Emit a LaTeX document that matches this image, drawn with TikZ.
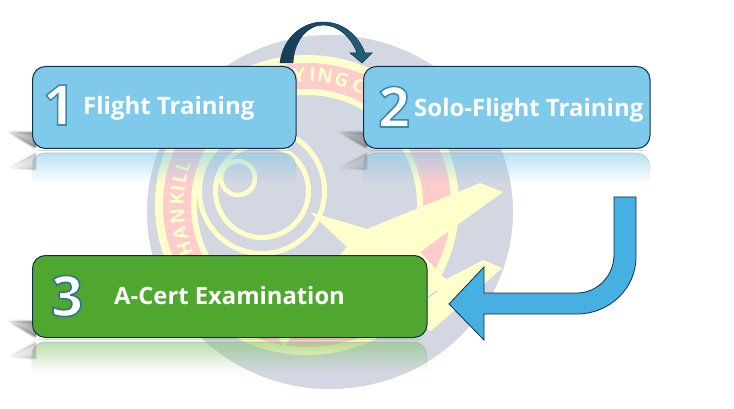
\documentclass[tikz,border=0pt]{standalone}
\usepackage{fontspec}
\setmainfont{Open Sans}
\usetikzlibrary{fadings,shadings}
\definecolor{logobg}{HTML}{D2D7E1}
\definecolor{logoyel}{HTML}{FFFFCC}
\definecolor{logopink}{HTML}{FFCCCC}
\definecolor{boxblue}{HTML}{7FC9EA}
\definecolor{boxgreen}{HTML}{4FA72F}
\definecolor{edgedark}{HTML}{0F3048}
\definecolor{arrowblue}{HTML}{45B0E1}
\tikzfading[name=reflfade,top color=transparent!45,bottom color=transparent!100]
\tikzfading[name=shadowfade,left color=transparent!100,right color=transparent!65]
\tikzfading[name=shadowfadeb,left color=transparent!100,right color=transparent!88]
\tikzset{
  x=1pt,y=-1pt,
  stepbox/.style={draw=edgedark,line width=1pt,rounded corners=13pt,inner sep=0pt,anchor=north west},
  label/.style={font=\bfseries\fontsize{24}{26}\selectfont,text=white,inner sep=0pt,anchor=base west},
  digit/.style={font=\bfseries\fontsize{56}{60}\selectfont,text=white,inner sep=0pt,anchor=base},
  letter/.style={font=\bfseries\fontsize{19}{21}\selectfont,text=logoyel,inner sep=0pt},
}
\newcommand{\outl}[2]{\special{pdf:code q 2 Tr 1.5 w #1 RG}#2\special{pdf:code Q}}
\newcommand{\reflection}[5]{% x1 x2 ytop ybottom colour
  \fill[#5,path fading=reflfade] (#1,#4) -- (#1,#3+13) arc[start angle=180,end angle=270,radius=13] -- (#2-13,#3) arc[start angle=270,end angle=360,radius=13] -- (#2,#4) -- cycle;
  \draw[gray!70,line width=.8pt,path fading=reflfade] (#1,#4-6) -- (#1,#3+13) arc[start angle=180,end angle=270,radius=13] -- (#2-13,#3) arc[start angle=270,end angle=360,radius=13] -- (#2,#4-6);
  \fill[gray,opacity=.3] (#1+6,#3-3.2) rectangle (#2-6,#3-1.6);
  \foreach \w in {0,2,4}{
    \path[fill=black!50,draw=black!50,line width=\w pt,line join=round,path fading=shadowfade] (#1-24,#3-21) -- (#1+3,#3-20) -- (#1+3,#3-6) -- cycle;
    \path[fill=black!50,draw=black!50,line width=\w pt,line join=round,path fading=shadowfadeb] (#1-24,#3+15) -- (#1+3,#3+1) -- (#1+3,#3+16) -- cycle;
  }
}
\begin{document}
\begin{tikzpicture}
\useasboundingbox (0,0) rectangle (734,409);
% emblem
\coordinate (ec) at (307,205);
\fill[logobg] (330,212) ellipse[x radius=183,y radius=177];
\fill[logoyel] (ec) ellipse[x radius=152,y radius=150];
\fill[logopink] (ec) ellipse[x radius=144,y radius=142];
\fill[logoyel] (ec) circle[radius=116];
\fill[logobg] (ec) circle[radius=110];
\foreach \r/\cx/\cy in {65/262/191,49/262/191}
  \draw[logoyel,line width=5pt] (\cx,\cy) circle[radius=\r-2.5];
\draw[logoyel,line width=4.5pt] (238,178) circle[radius=17];
\foreach \l/\a in {H/160,A/167.5,N/175,K/182.5,I/187.5,L/192,L/197.5,Y/266.5,I/272.5,N/278,G/285.5,C/293.5}
  \path (ec) ++(\a:130) node[letter,rotate={-(\a+90)}] (L\a) {\l};
\fill[logoyel] (310,212) -- (367,229) -- (480,183) -- (503,192) -- (460,223) -- (420,252) -- (443,277) -- (447,279) -- (483,260) -- (502,268) -- (431,331) -- (420,325) -- (300,325) -- (284,347) -- (278,337) -- (300,300) -- (347,247) -- cycle;
\draw[logobg,line width=1.5pt] (427,298) -- (437,291);
% reflections and shadows
\reflection{32}{296}{153}{183}{boxblue}
\reflection{363}{650}{153}{183}{boxblue}
\reflection{32}{427}{342}{372}{boxgreen!70!white}
% boxes
\node[stepbox,fill=boxblue,minimum width=263.5pt,minimum height=82pt] (b1) at (32,66) {};
\node[stepbox,fill=boxblue,minimum width=286.5pt,minimum height=82pt] (b2) at (363,66) {};
\node[stepbox,fill=boxgreen,minimum width=394.5pt,minimum height=82pt] (b3) at (32,255) {};
\node[digit] (d1) at (59,125) {\outl{0.24 0.53 0.68}{1}};
\node[digit] (d2) at (394,127) {\outl{0.24 0.53 0.68}{2}};
\node[digit] (d3) at (67,316) {\outl{0.18 0.43 0.60}{3}};
\node[label] (t1) at (83,115) {Flight Training};
\node[label] (t2) at (414,117) {Solo-Flight Training};
\node[label,font=\bfseries\fontsize{23.8}{26}\selectfont] (t3) at (114,304) {A-Cert Examination};
% curved arrow
\shade[left color=edgedark!70!arrowblue!70!black,right color=arrowblue!55!black,draw=edgedark,line width=.5pt]
  (280,63) .. controls (283,37) and (303,22) .. (323,22) .. controls (343,22) and (358,35) .. (365,53) -- (372,53) -- (362,63) -- (350,53) -- (357,53) .. controls (351,37) and (338,25) .. (323,25) .. controls (308,25) and (294,40) .. (293,63) -- cycle;
% block arrow
\draw[fill=arrowblue,draw=edgedark,line width=.8pt,line join=miter]
  (614,197) -- (636,197) -- (636,257) .. controls (636,289) and (609,314) .. (577,314) -- (484,314) -- (484,340) -- (449,304) -- (484,267) -- (484,293) -- (577,293) .. controls (597,293) and (614,276) .. (614,255) -- cycle;
\end{tikzpicture}
\end{document}
